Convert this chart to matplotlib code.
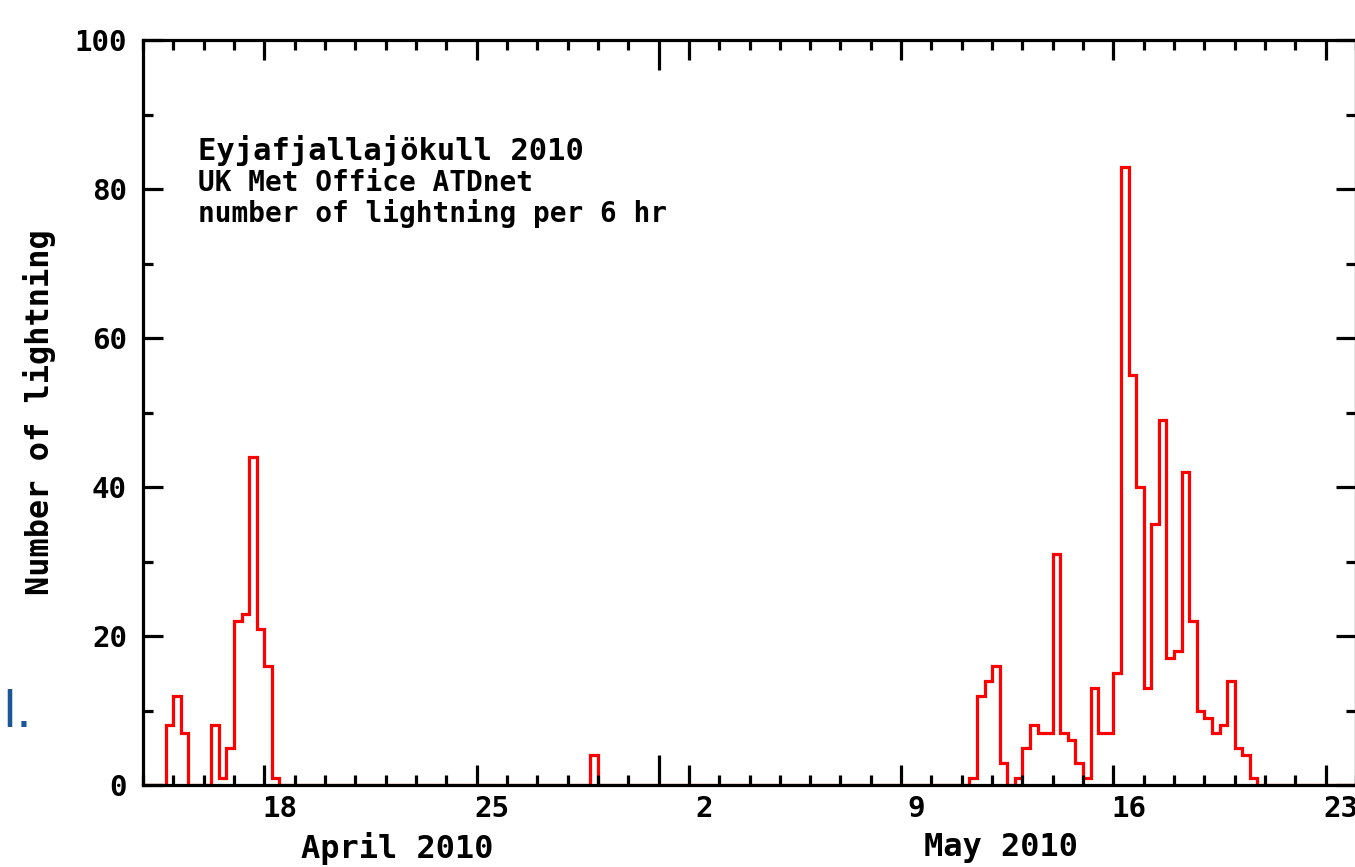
import pandas as pd
import matplotlib
matplotlib.use("Agg")
import matplotlib.pyplot as plt
import matplotlib.dates as mdates
from matplotlib.ticker import FixedLocator, MultipleLocator

# ATDnet flash counts per 6 h bin. Only the active spells are listed,
# every other bin between 14 April and 24 May is zero.
apr_start = "2010-04-14 18:00"
apr_counts = [8, 12, 7, 0, 0, 0, 8, 1, 5, 22, 23, 44, 21, 16, 1]
late_apr_start = "2010-04-28 18:00"
late_apr_counts = [4]
may_start = "2010-05-11 06:00"
may_counts = [1, 12, 14, 16, 3, 0, 1, 5, 8, 7, 7, 31, 7, 6, 3, 1, 13, 7, 7, 15,
              83, 55, 40, 13, 35, 49, 17, 18, 42, 22, 10, 9, 7, 8, 14, 5, 4, 1]

t_first, t_last = "2010-04-14", "2010-05-24"
week_days = ["2010-04-18", "2010-04-25", "2010-05-02", "2010-05-09", "2010-05-16", "2010-05-23"]
week_labels = ["18", "25", "2", "9", "16", "23"]
month_start = "2010-05-01"
month_names = ["April 2010", "May 2010"]
month_name_at = ["2010-04-22 09:00", "2010-05-12 07:00"]
y_ticks = [0, 20, 40, 60, 80, 100]
info_lines = ["Eyjafjallajökull 2010", "UK Met Office ATDnet", "number of lightning per 6 hr"]

edges = pd.date_range(t_first, t_last, freq="6h")
counts = pd.Series(0, index=edges[:-1])
for start, vals in [(apr_start, apr_counts), (late_apr_start, late_apr_counts), (may_start, may_counts)]:
    counts.loc[pd.date_range(start, periods=len(vals), freq="6h")] = vals

def dnum(t):
    return mdates.date2num(pd.to_datetime(t))

FONT = "DejaVu Sans Mono"

fig = plt.figure(figsize=(13.55, 8.67), dpi=100)
ax = fig.add_axes([143 / 1355, 82 / 867, 1213 / 1355, 745 / 867])

ax.stairs(counts.values, mdates.date2num(edges.to_pydatetime()), color="#ff0000", lw=2.3, zorder=1)

ax.set_xlim(dnum(t_first), dnum(t_last))
ax.set_ylim(0, 100)
for s in ax.spines.values():
    s.set_linewidth(2.3)

# x ticks: days (minor), weeks (major) and a longer one at the month change
ax.xaxis.set_minor_locator(mdates.DayLocator())
major_x = sorted(list(dnum(week_days)) + [dnum(month_start)])
ax.xaxis.set_major_locator(FixedLocator(major_x))
ax.yaxis.set_major_locator(FixedLocator(y_ticks))
ax.yaxis.set_minor_locator(MultipleLocator(10))
ax.tick_params(which="both", direction="in", top=True, right=True, width=2.3)
ax.tick_params(which="major", length=14.4)
ax.tick_params(which="minor", length=7.2)
ax.tick_params(axis="x", labelbottom=False)
ax.tick_params(axis="y", pad=11.5, labelsize=21)
for lab in ax.get_yticklabels():
    lab.set_fontfamily(FONT)
    lab.set_fontweight("bold")

for tick, loc in zip(ax.xaxis.get_major_ticks(len(major_x)), major_x):
    if loc == dnum(month_start):
        tick.tick1line.set_markersize(21.6)
        tick.tick2line.set_markersize(21.6)

# day numbers sit under the middle of the day
xt = ax.get_xaxis_transform()
for d, lab in zip(week_days, week_labels):
    ax.text(dnum(d) + 0.5, -0.014, lab, transform=xt, ha="center", va="top",
            fontsize=21, fontfamily=FONT, fontweight="bold")
for d, lab in zip(month_name_at, month_names):
    ax.text(dnum(d), -0.063, lab, transform=xt, ha="center", va="top",
            fontsize=23, fontfamily=FONT, fontweight="bold")

ax.set_ylabel("Number of lightning", fontsize=23, fontfamily=FONT, fontweight="bold", va="center")
ax.yaxis.set_label_coords(-0.085, 0.5)

for i, line in enumerate(info_lines):
    ax.text(0.045, 0.852 - 0.041 * i - (0.003 if i else 0), line, transform=ax.transAxes,
            ha="left", va="center", fontsize=22 if i == 0 else 20,
            fontfamily=FONT, fontweight="bold")

fig.text(0.002, 0.178, "l.", color="#1a5794", fontsize=36, fontfamily="DejaVu Sans", va="center")

fig.savefig("out.png", dpi=100)
